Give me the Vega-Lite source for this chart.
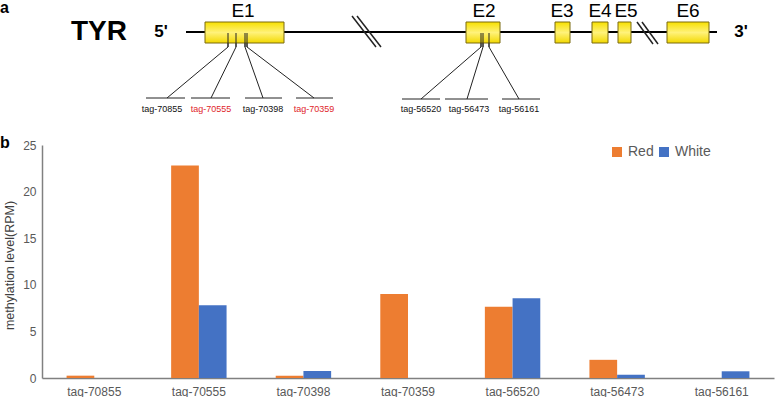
{
  "$schema": "https://vega.github.io/schema/vega-lite/v6.json",
  "padding": 0,
  "spacing": 15,
  "bounds": "flush",
  "background": "white",
  "config": {"view": {"stroke": null}, "font": "Liberation Sans"},
  "resolve": {"scale": {"color": "independent"}, "legend": {"color": "independent"}},
  "datasets": {
    "exons": [
      {"exon": "E1", "x1": 206, "x2": 285, "y1": 22, "y2": 43, "lx": 244},
      {"exon": "E2", "x1": 467, "x2": 501, "y1": 22, "y2": 43, "lx": 485},
      {"exon": "E3", "x1": 556, "x2": 571, "y1": 22, "y2": 43, "lx": 563},
      {"exon": "E4", "x1": 593, "x2": 609, "y1": 22, "y2": 43, "lx": 601},
      {"exon": "E5", "x1": 619, "x2": 632, "y1": 22, "y2": 43, "lx": 627},
      {"exon": "E6", "x1": 668, "x2": 710, "y1": 22, "y2": 43, "lx": 689}
    ],
    "backbone": [
      {"part": "gene", "x1": 187, "x2": 718, "y1": 32, "y2": 32}
    ],
    "breaks": [
      {"part": "b1a", "x1": 353, "x2": 377, "y1": 16, "y2": 47},
      {"part": "b1b", "x1": 358, "x2": 382, "y1": 16, "y2": 47},
      {"part": "b2a", "x1": 638, "x2": 654, "y1": 22, "y2": 44},
      {"part": "b2b", "x1": 643, "x2": 659, "y1": 22, "y2": 44}
    ],
    "links": [
      {"tag": "tag-70855", "kind": "tick", "x1": 229, "x2": 229, "y1": 33, "y2": 47},
      {"tag": "tag-70555", "kind": "tick", "x1": 237, "x2": 237, "y1": 33, "y2": 47},
      {"tag": "tag-70398", "kind": "tick", "x1": 246, "x2": 246, "y1": 33, "y2": 47},
      {"tag": "tag-70359", "kind": "tick", "x1": 248, "x2": 248, "y1": 33, "y2": 47},
      {"tag": "tag-56520", "kind": "tick", "x1": 482, "x2": 482, "y1": 33, "y2": 47},
      {"tag": "tag-56473", "kind": "tick", "x1": 484, "x2": 484, "y1": 33, "y2": 47},
      {"tag": "tag-56161", "kind": "tick", "x1": 490, "x2": 490, "y1": 33, "y2": 47},
      {"tag": "tag-70855", "kind": "diag", "x1": 229, "x2": 168, "y1": 47, "y2": 98},
      {"tag": "tag-70555", "kind": "diag", "x1": 237, "x2": 212, "y1": 47, "y2": 98},
      {"tag": "tag-70398", "kind": "diag", "x1": 246, "x2": 264, "y1": 47, "y2": 98},
      {"tag": "tag-70359", "kind": "diag", "x1": 248, "x2": 315, "y1": 47, "y2": 98},
      {"tag": "tag-56520", "kind": "diag", "x1": 482, "x2": 422, "y1": 47, "y2": 99},
      {"tag": "tag-56473", "kind": "diag", "x1": 484, "x2": 468, "y1": 47, "y2": 99},
      {"tag": "tag-56161", "kind": "diag", "x1": 490, "x2": 520, "y1": 47, "y2": 99},
      {"tag": "tag-70855", "kind": "under", "x1": 147, "x2": 186, "y1": 98, "y2": 98},
      {"tag": "tag-70555", "kind": "under", "x1": 192, "x2": 231, "y1": 98, "y2": 98},
      {"tag": "tag-70398", "kind": "under", "x1": 246, "x2": 283, "y1": 98, "y2": 98},
      {"tag": "tag-70359", "kind": "under", "x1": 297, "x2": 334, "y1": 98, "y2": 98},
      {"tag": "tag-56520", "kind": "under", "x1": 403, "x2": 441, "y1": 99, "y2": 99},
      {"tag": "tag-56473", "kind": "under", "x1": 446, "x2": 489, "y1": 99, "y2": 99},
      {"tag": "tag-56161", "kind": "under", "x1": 503, "x2": 541, "y1": 99, "y2": 99}
    ],
    "taglabels": [
      {"tag": "tag-70855", "x": 163, "y": 109, "marked": "no"},
      {"tag": "tag-70555", "x": 212, "y": 109, "marked": "yes"},
      {"tag": "tag-70398", "x": 264, "y": 109, "marked": "no"},
      {"tag": "tag-70359", "x": 315, "y": 109, "marked": "yes"},
      {"tag": "tag-56520", "x": 422, "y": 109, "marked": "no"},
      {"tag": "tag-56473", "x": 470, "y": 109, "marked": "no"},
      {"tag": "tag-56161", "x": 520, "y": 109, "marked": "no"}
    ],
    "ends": [
      {"label": "5'", "x": 162, "y": 32},
      {"label": "3'", "x": 742, "y": 32}
    ],
    "gene": [
      {"label": "TYR", "x": 100, "y": 32}
    ],
    "panels": [
      {"label": "a", "x": 1, "y": 8},
      {"label": "b", "x": 1, "y": 143}
    ],
    "bars": [
      {"tag": "tag-70855", "group": "Red", "value": 0.25},
      {"tag": "tag-70855", "group": "White", "value": 0},
      {"tag": "tag-70555", "group": "Red", "value": 22.8},
      {"tag": "tag-70555", "group": "White", "value": 7.8},
      {"tag": "tag-70398", "group": "Red", "value": 0.25},
      {"tag": "tag-70398", "group": "White", "value": 0.75},
      {"tag": "tag-70359", "group": "Red", "value": 9.0},
      {"tag": "tag-70359", "group": "White", "value": 0},
      {"tag": "tag-56520", "group": "Red", "value": 7.65},
      {"tag": "tag-56520", "group": "White", "value": 8.55},
      {"tag": "tag-56473", "group": "Red", "value": 1.95},
      {"tag": "tag-56473", "group": "White", "value": 0.35},
      {"tag": "tag-56161", "group": "Red", "value": 0},
      {"tag": "tag-56161", "group": "White", "value": 0.72}
    ]
  },
  "vconcat": [
    {
      "width": 735,
      "height": 130,
      "encoding": {},
      "layer": [
        {
          "data": {"name": "backbone"},
          "mark": {"type": "rule", "color": "black", "strokeWidth": 2},
          "encoding": {
            "x": {"field": "x1", "type": "quantitative", "scale": {"domain": [43, 778], "nice": false, "zero": false}, "axis": null},
            "x2": {"field": "x2"},
            "y": {"field": "y1", "type": "quantitative", "scale": {"domain": [130, 0], "nice": false, "zero": false}, "axis": null},
            "y2": {"field": "y2"}
          }
        },
        {
          "data": {"name": "breaks"},
          "mark": {"type": "rule", "color": "#222222", "strokeWidth": 1.5},
          "encoding": {
            "x": {"field": "x1", "type": "quantitative"},
            "x2": {"field": "x2"},
            "y": {"field": "y1", "type": "quantitative"},
            "y2": {"field": "y2"}
          }
        },
        {
          "data": {"name": "links"},
          "mark": {"type": "rule", "color": "#222222", "strokeWidth": 1},
          "encoding": {
            "x": {"field": "x1", "type": "quantitative"},
            "x2": {"field": "x2"},
            "y": {"field": "y1", "type": "quantitative"},
            "y2": {"field": "y2"}
          }
        },
        {
          "data": {"name": "exons"},
          "mark": {
            "type": "rect",
            "stroke": "#7a6a10",
            "strokeWidth": 1,
            "fill": {
              "gradient": "linear", "x1": 0, "y1": 0, "x2": 0, "y2": 1,
              "stops": [
                {"offset": 0, "color": "#f7e000"},
                {"offset": 0.5, "color": "#fff27a"},
                {"offset": 1, "color": "#f2d800"}
              ]
            }
          },
          "encoding": {
            "x": {"field": "x1", "type": "quantitative"},
            "x2": {"field": "x2"},
            "y": {"field": "y1", "type": "quantitative"},
            "y2": {"field": "y2"}
          }
        },
        {
          "data": {"name": "links"},
          "transform": [{"filter": "datum.kind === 'tick'"}],
          "mark": {"type": "rule", "color": "#222222", "strokeWidth": 1},
          "encoding": {
            "x": {"field": "x1", "type": "quantitative"},
            "x2": {"field": "x2"},
            "y": {"field": "y1", "type": "quantitative"},
            "y2": {"field": "y2"}
          }
        },
        {
          "data": {"name": "exons"},
          "mark": {"type": "text", "fontSize": 19, "color": "black", "baseline": "middle"},
          "encoding": {
            "x": {"field": "lx", "type": "quantitative"},
            "y": {"datum": 11, "type": "quantitative"},
            "text": {"field": "exon"}
          }
        },
        {
          "data": {"name": "taglabels"},
          "mark": {"type": "text", "fontSize": 9, "baseline": "middle"},
          "encoding": {
            "x": {"field": "x", "type": "quantitative"},
            "y": {"field": "y", "type": "quantitative"},
            "text": {"field": "tag"},
            "color": {"field": "marked", "type": "nominal", "scale": {"domain": ["yes", "no"], "range": ["#e0262b", "#111111"]}, "legend": null}
          }
        },
        {
          "data": {"name": "ends"},
          "mark": {"type": "text", "fontSize": 17, "fontWeight": "bold", "color": "black", "baseline": "middle"},
          "encoding": {
            "x": {"field": "x", "type": "quantitative"},
            "y": {"field": "y", "type": "quantitative"},
            "text": {"field": "label"}
          }
        },
        {
          "data": {"name": "gene"},
          "mark": {"type": "text", "fontSize": 28, "fontWeight": "bold", "color": "black", "baseline": "middle"},
          "encoding": {
            "x": {"field": "x", "type": "quantitative"},
            "y": {"field": "y", "type": "quantitative"},
            "text": {"field": "label"}
          }
        },
        {
          "data": {"name": "panels"},
          "mark": {"type": "text", "fontSize": 16, "fontWeight": "bold", "color": "black", "baseline": "middle", "align": "left"},
          "encoding": {
            "x": {"field": "x", "type": "quantitative"},
            "y": {"field": "y", "type": "quantitative"},
            "text": {"field": "label"}
          }
        }
      ]
    },
    {
      "width": 732,
      "height": 233,
      "data": {"name": "bars"},
      "mark": {"type": "bar"},
      "encoding": {
        "x": {
          "field": "tag", "type": "nominal",
          "sort": ["tag-70855", "tag-70555", "tag-70398", "tag-70359", "tag-56520", "tag-56473", "tag-56161"],
          "scale": {"paddingInner": 0.47, "paddingOuter": 0.235},
          "axis": {"title": null, "labelAngle": 0, "ticks": false, "domainColor": "#808080", "domainWidth": 1.5, "labelColor": "#595959", "labelFontSize": 12, "labelPadding": 8}
        },
        "xOffset": {"field": "group", "type": "nominal", "sort": ["Red", "White"], "scale": {"paddingInner": 0, "paddingOuter": 0}},
        "y": {
          "field": "value", "type": "quantitative",
          "scale": {"domain": [0, 25], "nice": false},
          "axis": {"title": "methylation level(RPM)", "values": [0, 5, 10, 15, 20, 25], "grid": false, "ticks": false, "domainColor": "#808080", "domainWidth": 1.5, "labelColor": "#595959", "labelFontSize": 12, "labelPadding": 6, "titleColor": "#404040", "titleFontSize": 12.5, "titleFontWeight": "normal", "titlePadding": 6, "titleY": 120}
        },
        "color": {
          "field": "group", "type": "nominal",
          "scale": {"domain": ["Red", "White"], "range": ["#ED7D31", "#4472C4"]},
          "legend": {"title": null, "orient": "none", "legendX": 568, "legendY": 0, "direction": "horizontal", "symbolType": "square", "symbolSize": 100, "labelFontSize": 14, "labelColor": "#595959", "columnPadding": 3, "labelOffset": 4}
        }
      }
    }
  ]
}
